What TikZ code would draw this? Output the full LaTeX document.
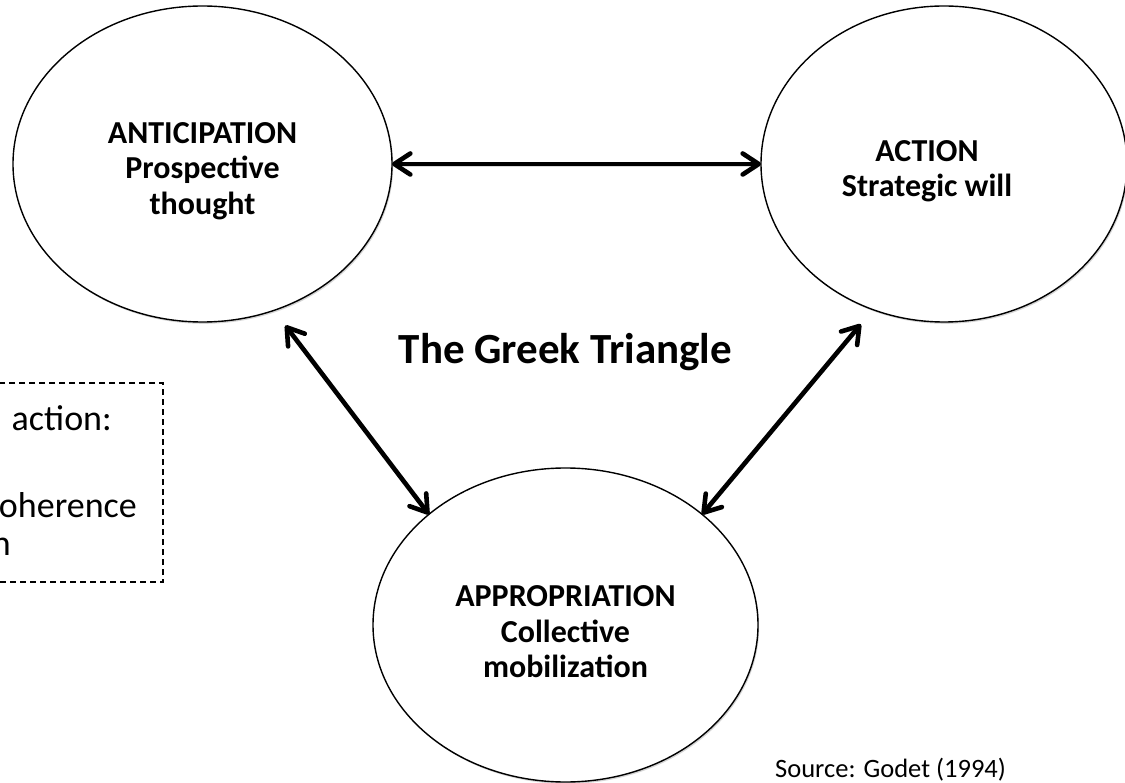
\documentclass[tikz,border=0pt]{standalone}
\usepackage{fontspec}
\setmainfont{Carlito}
\usetikzlibrary{arrows.meta,shapes.geometric,shadows}

\tikzset{
  bubble/.style={ellipse, draw=black, line width=1.4pt, fill=white,
    outer sep=0pt, inner sep=0pt,
    drop shadow={shadow xshift=1.2pt, shadow yshift=-1.8pt, opacity=0.28, fill=black!60}},
  barb/.tip={Straight Barb[length=16pt,width=21pt,round]},
  link/.style={line width=4.6pt, barb-barb,
    preaction={draw=black, opacity=0.15, transform canvas={xshift=1pt,yshift=-2pt}}},
  labelfont/.style={align=center, inner sep=0pt,
    font=\fontsize{32}{35.5}\selectfont\bfseries},
  titlefont/.style={inner sep=0pt, font=\fontsize{43}{50}\selectfont\bfseries},
  notefont/.style={inner sep=0pt, font=\fontsize{36}{42}\selectfont},
  sourcefont/.style={inner sep=0pt, font=\fontsize{26.5}{32}\selectfont},
  notebox/.style={draw=black, line width=1.2pt, dash pattern=on 6pt off 4pt},
}

\begin{document}
\begin{tikzpicture}[x=1pt, y=-1pt]
  \useasboundingbox (0,0) rectangle (1125,783);
  \clip (0,0) rectangle (1125,783);

  % the three poles of the triangle
  \node[bubble, minimum width=379pt, minimum height=316pt] (anti)  at (202.5,164) {};
  \node[bubble, minimum width=366pt, minimum height=316pt] (act)   at (944,164) {};
  \node[bubble, minimum width=385pt, minimum height=314pt] (appro) at (565.5,625) {};

  \node[labelfont] (antitxt)  at (202.5,171) {ANTICIPATION\\Prospective\\thought};
  \node[labelfont] (acttxt)   at (927,171)   {ACTION\\Strategic will};
  \node[labelfont] (approtxt) at (565.5,632) {APPROPRIATION\\Collective\\mobilization};

  % two-way links between the poles
  \draw[link] (anti.east) -- (act.west);
  \draw[link, shorten <=19pt] (anti.-64) -- (appro.141);
  \draw[link, shorten <=19pt] (act.-116) -- (appro.39);

  \node[titlefont] (title) at (565.5,352) {The Greek Triangle};

  % side note running off the left edge
  \node[notebox, minimum width=203pt, minimum height=199pt, inner sep=0pt]
    (note) at (61.5,482.5) {};
  \node[notefont, anchor=base east] (n1) at (112,431) {action:};
  \node[notefont, anchor=base east] (n2) at (137,518) {oherence};
  \node[notefont, anchor=base east] (n3) at (11,555) {n};

  \node[sourcefont, anchor=base west] (src) at (775,777) {Source: Godet (1994)};
\end{tikzpicture}
\end{document}
